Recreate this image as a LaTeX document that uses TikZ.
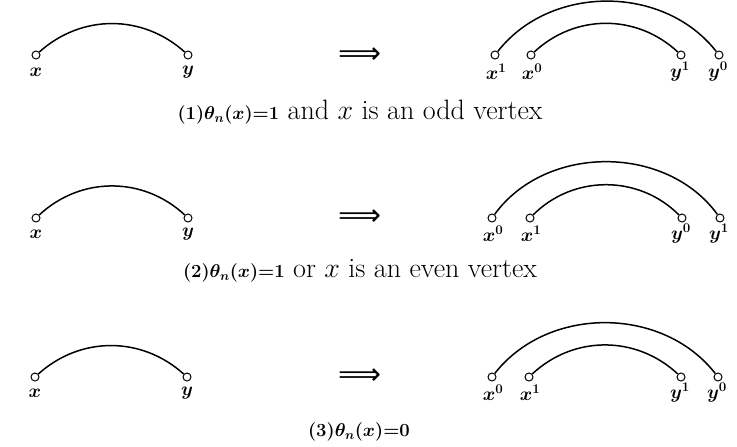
\RequirePackage{fix-cm}
\documentclass[tikz,border=0pt]{standalone}
\usepackage{amsmath,bm}
\usepackage{fontspec}
\newfontfamily\arrowfont{DejaVu Sans}
\newcommand{\capsm}[1]{{\fontsize{18.5}{21}\selectfont\bfseries\boldmath #1}}
\begin{document}
\begin{tikzpicture}[x=1pt,y=-1pt,
	  vtx/.style={circle,draw,line width=1pt,inner sep=0pt,minimum size=8pt},
	  lbl/.style={font=\fontsize{19}{22}\selectfont},
	  captxt/.style={font=\fontsize{28}{31}\selectfont},
	  imp/.style={font=\fontsize{30}{32}\selectfont\arrowfont},
	  edge/.style={line width=1.5pt}]
	  \useasboundingbox (0,0) rectangle (737,447);
	  % (1)
	  \node[vtx] (x1) at (36,55) {};
	  \node[vtx] (y1) at (188,55) {};
	  \node[lbl] at (36,72) {$\bm{x}$};
	  \node[lbl] at (188,72) {$\bm{y}$};
	  \draw[edge] (x1) to[bend left=42] (y1);
	  \node[imp] (i1) at (360,56) {⟹};
	  \node[vtx] (xa1) at (495,55) {};
	  \node[vtx] (xb1) at (531,55) {};
	  \node[vtx] (yb1) at (681,55) {};
	  \node[vtx] (ya1) at (719,55) {};
	  \node[lbl] at (496,72) {$\bm{x^1}$};
	  \node[lbl] at (532,72) {$\bm{x^0}$};
	  \node[lbl] at (680,72) {$\bm{y^1}$};
	  \node[lbl] at (718,72) {$\bm{y^0}$};
	  \draw[edge] (xa1) to[bend left=52] (ya1);
	  \draw[edge] (xb1) to[bend left=43] (yb1);
	  \node[captxt] (c1) at (360,112) {\capsm{(1)$\theta_n(x)$=1} and $x$ is an odd vertex};
	  % (2)
	  \node[vtx] (x2) at (36,218) {};
	  \node[vtx] (y2) at (188,218) {};
	  \node[lbl] at (36,234) {$\bm{x}$};
	  \node[lbl] at (188,234) {$\bm{y}$};
	  \draw[edge] (x2) to[bend left=43] (y2);
	  \node[imp] (i2) at (360,218) {⟹};
	  \node[vtx] (xa2) at (492,218) {};
	  \node[vtx] (xb2) at (530,218) {};
	  \node[vtx] (ya2) at (682,218) {};
	  \node[vtx] (yb2) at (720,218) {};
	  \node[lbl] at (493,234) {$\bm{x^0}$};
	  \node[lbl] at (531,234) {$\bm{x^1}$};
	  \node[lbl] at (681,234) {$\bm{y^0}$};
	  \node[lbl] at (719,234) {$\bm{y^1}$};
	  \draw[edge] (xa2) to[bend left=54] (yb2);
	  \draw[edge] (xb2) to[bend left=45] (ya2);
	  \node[captxt] (c2) at (360,271) {\capsm{(2)$\theta_n(x)$=1} or $x$ is an even vertex};
	  % (3)
	  \node[vtx] (x3) at (35,377) {};
	  \node[vtx] (y3) at (187,377) {};
	  \node[lbl] at (35,393) {$\bm{x}$};
	  \node[lbl] at (187,393) {$\bm{y}$};
	  \draw[edge] (x3) to[bend left=42] (y3);
	  \node[imp] (i3) at (360,377) {⟹};
	  \node[vtx] (xa3) at (492,377) {};
	  \node[vtx] (xb3) at (529,377) {};
	  \node[vtx] (yb3) at (681,377) {};
	  \node[vtx] (ya3) at (718,377) {};
	  \node[lbl] at (493,393) {$\bm{x^0}$};
	  \node[lbl] at (530,393) {$\bm{x^1}$};
	  \node[lbl] at (680,393) {$\bm{y^1}$};
	  \node[lbl] at (717,393) {$\bm{y^0}$};
	  \draw[edge] (xa3) to[bend left=52] (ya3);
	  \draw[edge] (xb3) to[bend left=43] (yb3);
	  \node (c3) at (359,432) {\capsm{(3)$\theta_n(x)$=0}};
\end{tikzpicture}
\end{document}
